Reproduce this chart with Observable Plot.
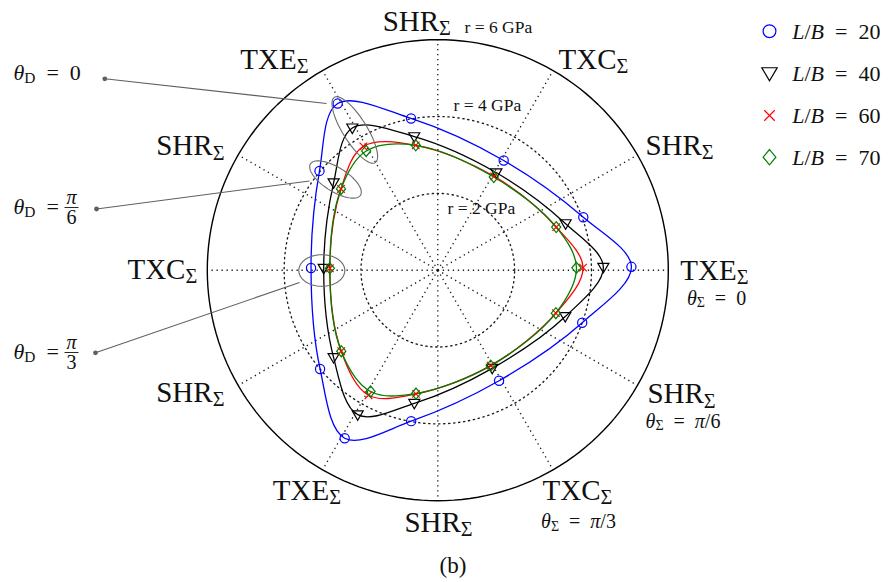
<!DOCTYPE html>
<html>
<head>
<meta charset="utf-8">
<script src="https://cdn.jsdelivr.net/npm/d3@7"></script>
<script src="https://cdn.jsdelivr.net/npm/@observablehq/plot@0.6"></script>
<style>
  html, body { margin: 0; padding: 0; background: #fff; }
  #chart { width: 895px; height: 582px; }
</style>
</head>
<body>
<div id="chart"></div>
<script>
// ---------------- data ----------------
const seriesNames = ["L/B = 20", "L/B = 40", "L/B = 60", "L/B = 70"];
// loading-direction angle theta_Sigma (degrees, counter-clockwise from TXE) of each marker
const thetaSigmaDeg = [1, 20, 59, 100, 121, 140, 179, 220, 241, 260, 299, 340];
// strength radius (GPa)
const rLB20 = [5.04, 4.03, 3.33, 4.01, 5.06, 4.02, 3.30, 4.00, 5.00, 3.99, 3.29, 4.00];
const rLB40 = [4.31, 3.54, 2.96, 3.53, 4.32, 3.54, 2.97, 3.54, 4.30, 3.52, 2.92, 3.53];
const rLB60 = [3.78, 3.28, 2.85, 3.30, 3.76, 3.29, 2.81, 3.28, 3.72, 3.27, 2.84, 3.27];
const rLB70 = [3.61, 3.28, 2.83, 3.30, 3.62, 3.29, 2.81, 3.28, 3.61, 3.26, 2.84, 3.27];

const ringValues = [2, 4, 6];            // GPa
const ringLabels = ["r = 2 GPa", "r = 4 GPa", "r = 6 GPa"];
const spokeAngles = [0, 30, 60, 90, 120, 150, 180, 210, 240, 270, 300, 330];
const spokeLabels = ["TXE_Σ", "SHR_Σ", "TXC_Σ", "SHR_Σ", "TXE_Σ", "SHR_Σ",
                     "TXC_Σ", "SHR_Σ", "TXE_Σ", "SHR_Σ", "TXC_Σ", "SHR_Σ"];
const thetaSigmaNotes = ["θ_Σ = 0", "θ_Σ = π/6", "θ_Σ = π/3"];
const thetaDNotes = ["θ_D = 0", "θ_D = ", "θ_D = "];
const thetaDFractions = [null, ["π", "6"], ["π", "3"]];
const caption = "(b)";

// ---------------- layout / style ----------------
const W = 895, H = 582;
const CX = 437.3, CY = 269.7, K = 38.42;      // polar centre (px) and px per GPa
const EN = "\u2002";
const rad = d => d * Math.PI / 180;
const polar = (r, deg) => ({x: r * Math.cos(rad(deg)), y: r * Math.sin(rad(deg))});
const at = (X, Y) => ({x: (X - CX) / K, y: (CY - Y) / K});   // annotation pixel spot -> data units
const sp = s => s.replace(/ = /g, EN + "=" + EN);

// custom marker shapes
const symTriDown = {draw(ctx, size) { const r = Math.sqrt(size / Math.PI);
  ctx.moveTo(-1.2 * r, -0.85 * r); ctx.lineTo(1.2 * r, -0.85 * r); ctx.lineTo(0, 1.2 * r); ctx.closePath(); }};
const symDiamond = {draw(ctx, size) { const r = Math.sqrt(size / Math.PI);
  ctx.moveTo(0, -1.2 * r); ctx.lineTo(r, 0); ctx.lineTo(0, 1.2 * r); ctx.lineTo(-r, 0); ctx.closePath(); }};
const symTimes = {draw(ctx, size) { const r = Math.sqrt(size / Math.PI) * 0.82;
  ctx.moveTo(-r, -r); ctx.lineTo(r, r); ctx.moveTo(-r, r); ctx.lineTo(r, -r); }};
const symCircle = {draw(ctx, size) { const r = Math.sqrt(size / Math.PI);
  ctx.moveTo(r, 0); ctx.arc(0, 0, r, 0, 2 * Math.PI); }};

const seriesStyle = [
  {color: "#0000ff", symbol: symCircle},
  {color: "#000000", symbol: symTriDown},
  {color: "#ff0000", symbol: symTimes},
  {color: "#008000", symbol: symDiamond}
];
const seriesR = [rLB20, rLB40, rLB60, rLB70];

const seriesRows = seriesNames.map((name, s) =>
  thetaSigmaDeg.map((t, i) => ({series: name, theta: t, r: seriesR[s][i], ...polar(seriesR[s][i], t)})));

// grid
const circlePts = r => d3.range(0, 361, 2).map(a => ({ring: r, ...polar(r, a)}));
const innerRings = ringValues.slice(0, -1).flatMap(circlePts);
const outerRing = circlePts(ringValues[ringValues.length - 1]);
const RMAX = ringValues[ringValues.length - 1];
const dotted = {stroke: "#1a1a1a", strokeWidth: 1.35, strokeDasharray: "1.3,3.7"};

// spoke label placement (anchor, pixel offsets from the outer circle)
const labelLayout = [
  ["start", 12, 9.5], ["start", 8, 0], ["start", 5.5, -2], ["middle", -21, -9],
  ["end", -14, -2], ["end", -13.7, 0.5], ["end", -10, 8.3], ["end", -13.7, 16.5],
  ["middle", -15.6, 29.7], ["middle", 0.7, 30.8], ["start", -10.5, 30.3], ["start", 10, 18]
];
const ringLabelSpots = [[447, 213.5], [453, 110], [464, 32]];
const thetaSigmaSpots = [[716, 304], [682.5, 427], [578, 527.5]];
const thetaDSpots = [[13, 79], [13, 213], [13, 358]];
const fractionSpots = [null, [71, 207], [71, 352]];
const arrowSpots = [
  {from: [104.3, 78.3], to: [326, 103]},
  {from: [96, 208.5], to: [309, 180.5]},
  {from: [95, 352.3], to: [299, 282]}
];
const ellipseSpots = [
  {c: [354.3, 129.5], a: 38.5, b: 12, phi: 122},
  {c: [335, 179], a: 29.5, b: 12, phi: 148},
  {c: [321.3, 270], a: 23, b: 15.8, phi: 0}
];
const legendX = 769, legendTextX = 791.7, legendY = [30.7, 72.7, 115, 156.7];

const ellipsePts = ellipseSpots.flatMap((e, i) => {
  const c = at(e.c[0], e.c[1]), a = e.a / K, b = e.b / K, p = rad(e.phi);
  return d3.range(0, 360, 4).map(t => {
    const ct = Math.cos(rad(t)), st = Math.sin(rad(t));
    return {id: i, x: c.x + a * ct * Math.cos(p) - b * st * Math.sin(p),
                   y: c.y + a * ct * Math.sin(p) + b * st * Math.cos(p)};
  });
});

const arrows = arrowSpots.map(d => {
  const f = at(...d.from), t = at(...d.to);
  return {x1: f.x, y1: f.y, x2: t.x, y2: t.y};
});

const marks = [];
// grid
marks.push(Plot.line(innerRings, {x: "x", y: "y", z: "ring", ...dotted}));
marks.push(Plot.link(spokeAngles, {x1: () => 0, y1: () => 0,
  x2: a => polar(RMAX, a).x, y2: a => polar(RMAX, a).y, ...dotted}));
marks.push(Plot.line(outerRing, {x: "x", y: "y", stroke: "#000", strokeWidth: 1.4}));

// series
seriesRows.forEach((rows, s) => {
  marks.push(Plot.line(rows, {x: "x", y: "y", stroke: seriesStyle[s].color, strokeWidth: 1.3,
    curve: "catmull-rom-closed"}));
});
seriesRows.forEach((rows, s) => {
  marks.push(Plot.dot(rows, {x: "x", y: "y", symbol: seriesStyle[s].symbol, r: 4.6,
    stroke: seriesStyle[s].color, fill: "none", strokeWidth: 1.2}));
});

// annotations: ellipses and arrows
marks.push(Plot.line(ellipsePts, {x: "x", y: "y", z: "id", curve: "linear-closed",
  stroke: "#6a6a6a", strokeWidth: 1.1}));
marks.push(Plot.link(arrows, {x1: "x1", y1: "y1", x2: "x2", y2: "y2", stroke: "#5f5f5f",
  strokeWidth: 1.1, ariaLabel: "annot-arrow"}));
marks.push(Plot.dot(arrows, {x: "x1", y: "y1", r: 2.4, fill: "#5f5f5f", stroke: "none"}));

// spoke labels
spokeAngles.forEach((a, i) => {
  const [anchor, dx, dy] = labelLayout[i];
  marks.push(Plot.text([spokeLabels[i]], {x: () => polar(RMAX, a).x, y: () => polar(RMAX, a).y,
    text: d => d, textAnchor: anchor, dx, dy, lineAnchor: "bottom", fontSize: 29, fill: "#111"}));
});
// ring labels
ringLabels.forEach((lab, i) => {
  const p = at(...ringLabelSpots[i]);
  marks.push(Plot.text([lab], {x: () => p.x, y: () => p.y, text: d => d, textAnchor: "start",
    lineAnchor: "bottom", fontSize: 17.5, fill: "#111"}));
});
// theta_Sigma notes
thetaSigmaNotes.forEach((lab, i) => {
  const p = at(...thetaSigmaSpots[i]);
  marks.push(Plot.text([sp(lab)], {x: () => p.x, y: () => p.y, text: d => d, textAnchor: "middle",
    lineAnchor: "bottom", fontSize: 20, fill: "#111"}));
});
// theta_D notes
thetaDNotes.forEach((lab, i) => {
  const p = at(...thetaDSpots[i]);
  marks.push(Plot.text([sp(lab).replace(/\u2002$/, "")], {x: () => p.x, y: () => p.y, text: d => d,
    textAnchor: "start", lineAnchor: "bottom", fontSize: 22, fill: "#111"}));
  const fr = thetaDFractions[i];
  if (fr) {
    const c = at(...fractionSpots[i]);
    const half = 7 / K;
    marks.push(Plot.link([0], {x1: () => c.x - half, x2: () => c.x + half, y1: () => c.y, y2: () => c.y,
      stroke: "#111", strokeWidth: 0.9}));
    marks.push(Plot.text([fr[0]], {x: () => c.x, y: () => c.y, dy: -4, text: d => d,
      textAnchor: "middle", lineAnchor: "bottom", fontSize: 20, fill: "#111"}));
    marks.push(Plot.text([fr[1]], {x: () => c.x, y: () => c.y, dy: 16, text: d => d,
      textAnchor: "middle", lineAnchor: "bottom", fontSize: 20, fill: "#111"}));
  }
});
// legend
seriesNames.forEach((name, s) => {
  const m = at(legendX, legendY[s]);
  const t = at(legendTextX, legendY[s] + 7.5);
  marks.push(Plot.dot([name], {x: () => m.x, y: () => m.y, symbol: seriesStyle[s].symbol, r: 6.4,
    stroke: seriesStyle[s].color, fill: "none", strokeWidth: 1.2}));
  marks.push(Plot.text([sp(name)], {x: () => t.x, y: () => t.y, text: d => d, textAnchor: "start",
    lineAnchor: "bottom", fontSize: 22, fill: "#111"}));
});
// caption
{
  const p = at(452.5, 572);
  marks.push(Plot.text([caption], {x: () => p.x, y: () => p.y, text: d => d, textAnchor: "middle",
    lineAnchor: "bottom", fontSize: 23, fill: "#111"}));
}

const chart = Plot.plot({
  width: W, height: H, margin: 0,
  x: {domain: [-CX / K, (W - CX) / K], axis: null},
  y: {domain: [-(H - CY) / K, CY / K], axis: null},
  style: {fontFamily: "'Liberation Serif', 'Times New Roman', serif", background: "white", fontSize: "16px"},
  marks
});
document.getElementById("chart").appendChild(chart);

// ---- rich text: subscripts (_) and math italics ----
const ITALIC = new Set(["θ", "L", "B", "π"]);
const NS = "http://www.w3.org/2000/svg";
chart.querySelectorAll("text").forEach(el => {
  const s = el.textContent;
  if (!/[_θLBπ]/.test(s)) return;
  const fs = parseFloat(getComputedStyle(el).fontSize) || 16;
  const subSize = fs * 0.7, shift = fs * 0.14;
  const toks = [];
  for (let i = 0; i < s.length;) {
    if (s[i] === "_") {
      let c;
      if (s[i + 1] === "{") { const j = s.indexOf("}", i); c = s.slice(i + 2, j); i = j + 1; }
      else { c = s[i + 1]; i += 2; }
      toks.push({t: c, sub: true, it: false});
    } else {
      toks.push({t: s[i], sub: false, it: ITALIC.has(s[i])}); i++;
    }
  }
  const runs = [];
  toks.forEach(t => {
    const last = runs[runs.length - 1];
    if (last && last.sub === t.sub && last.it === t.it) last.t += t.t; else runs.push({...t});
  });
  el.textContent = "";
  let cur = 0;
  runs.forEach(run => {
    const ts = document.createElementNS(NS, "tspan");
    const target = run.sub ? shift : 0;
    if (target !== cur) { ts.setAttribute("dy", target - cur); cur = target; }
    if (run.sub) ts.setAttribute("font-size", subSize);
    if (run.it) ts.setAttribute("font-style", "italic");
    ts.textContent = run.t;
    el.appendChild(ts);
  });
});

// ---- filled arrowheads for the annotation arrows ----
const svg = d3.select(chart);
const defs = svg.insert("defs", ":first-child");
defs.append("marker").attr("id", "ahead").attr("viewBox", "0 0 10 10")
  .attr("refX", 10).attr("refY", 5).attr("markerWidth", 9).attr("markerHeight", 6)
  .attr("markerUnits", "userSpaceOnUse").attr("orient", "auto").attr("preserveAspectRatio", "none")
  .append("path").attr("d", "M0,0L10,5L0,10z").attr("fill", "#5f5f5f");
svg.selectAll('g[aria-label="annot-arrow"] path').attr("marker-end", "url(#ahead)");
</script>
</body>
</html>
